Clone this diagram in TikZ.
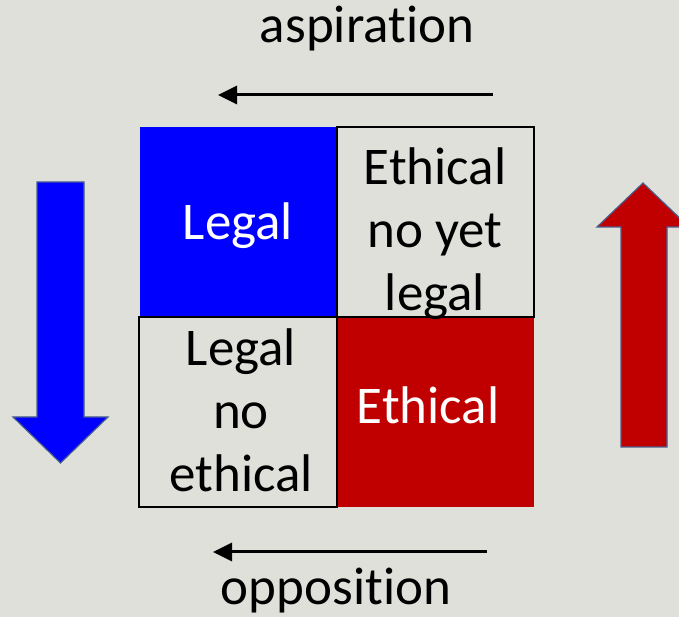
\documentclass[tikz,border=0pt]{standalone}
\usepackage{fontspec}
\setmainfont{Carlito}[Ligatures=NoCommon]
\usetikzlibrary{arrows.meta}
\definecolor{bg}{HTML}{E0E0DB}
\definecolor{lblue}{HTML}{0000FF}
\definecolor{lred}{HTML}{C00000}
\definecolor{edge}{HTML}{4A5E8C}
\tikzset{
  cellbox/.style={draw=none, minimum width=197pt, minimum height=190pt, inner sep=0pt, outer sep=0pt},
  greycell/.style={cellbox, draw=black, line width=2pt, fill=bg},
  big/.style={font=\fontsize{53}{63}\selectfont, align=center, inner sep=0pt},
  flowarrow/.style={line width=3pt, -{Triangle[length=19pt,width=18pt]}},
  blockarrow/.style={draw=edge, line width=1.2pt, line join=miter}
}
\begin{document}
\begin{tikzpicture}[x=1pt,y=1pt]
\useasboundingbox (0,0) rectangle (679,617);
\clip (0,0) rectangle (679,617);
\fill[bg] (0,0) rectangle (679,617);
% coloured cells
\node[cellbox, fill=lblue] (cLegal) at (238.5,394.5) {};
\node[cellbox, fill=lred] (cEthical) at (435.5,205) {};
% outlined cells
\node[greycell] (cEnl) at (435.5,395) {};
\node[greycell, minimum width=198pt] (cLne) at (238,205) {};
% texts
\node[big, text=white] (tLegal) at (238,391.5) {Legal};
\node[big, text=black] (tEnl) at (435,383) {Ethical\\no yet\\legal};
\node[big, text=black] (tLne) at (241,207) {Legal\\no\\ethical};
\node[big, text=white] (tEthical) at (428,211.5) {Ethical};
\node[big, anchor=base] (tAsp) at (367,574) {aspiration};
\node[big, anchor=base] (tOpp) at (336,12) {opposition};
% line arrows
\coordinate (a1) at (493,522);
\coordinate (a2) at (218,522);
\coordinate (b1) at (487,65);
\coordinate (b2) at (213,65);
\draw[flowarrow] (a1) -- (a2);
\draw[flowarrow] (b1) -- (b2);
% block arrows
\fill[lblue, blockarrow] (37,435) -- (84,435) -- (84,200) -- (108,200) -- (60.5,154)
  -- (13,200) -- (37,200) -- cycle;
\fill[lred, blockarrow] (621,170) -- (667,170) -- (667,390) -- (689,390) -- (643,434)
  -- (597,390) -- (621,390) -- cycle;
\end{tikzpicture}
\end{document}
